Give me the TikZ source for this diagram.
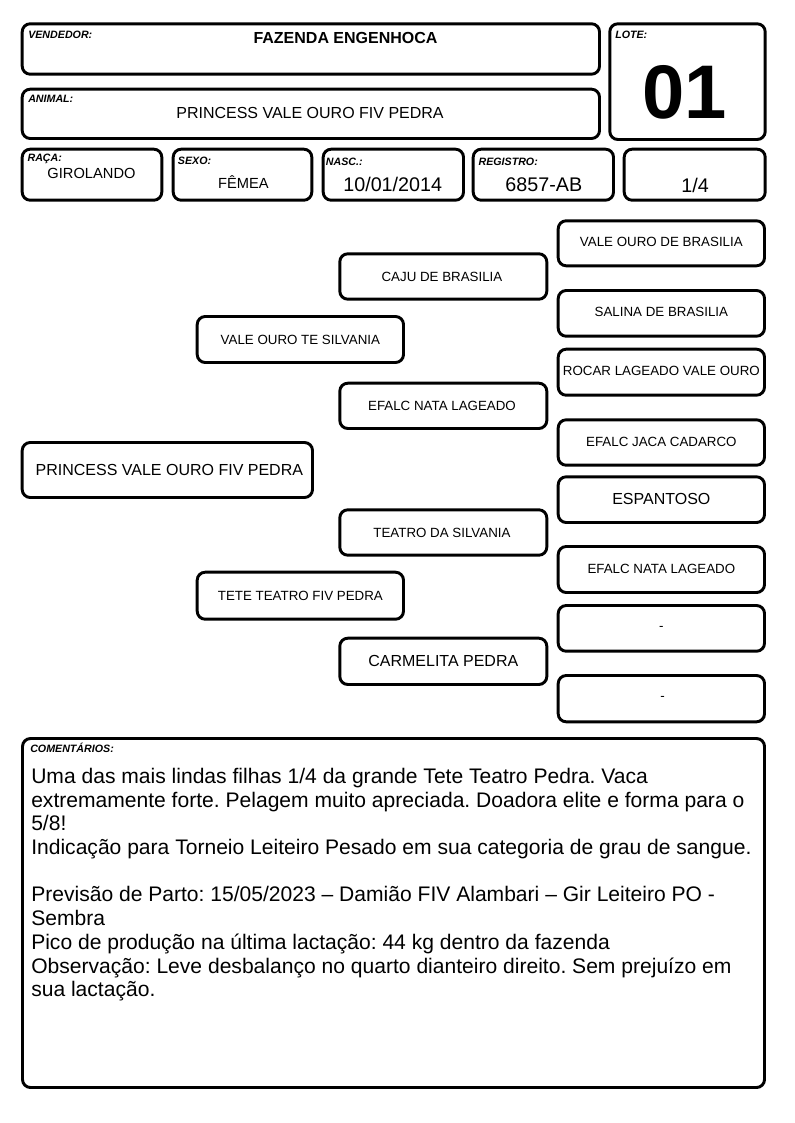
\documentclass[tikz,border=0pt]{standalone}
\usepackage{fontspec}
\setmainfont{Liberation Sans}
\usetikzlibrary{fit}
\tikzset{
  box/.style={draw=black, line width=2.2pt, rounded corners=6pt, inner sep=0pt},
  lab/.style={font=\fontsize{8}{9}\selectfont\bfseries\itshape, anchor=base west, inner sep=0pt},
  val/.style={anchor=base, inner sep=0pt},
  ped/.style={anchor=center, inner sep=0pt, font=\fontsize{10}{12}\selectfont},
  pedbig/.style={anchor=center, inner sep=0pt, font=\fontsize{12}{14}\selectfont},
}
\begin{document}
\begin{tikzpicture}[x=0.75pt,y=-0.75pt]
\fill[white] (0,0) rectangle (794,1123);
\useasboundingbox (0,0) rectangle (794,1123);

% header boxes
\node[box, fit={(22.2,23.8) (599.5,74.2)}] (vend) {};
\node[box, fit={(22.2,89.2) (599.5,138.5)}] (anim) {};
\node[box, fit={(609.8,23.8) (765.2,139.5)}] (lote) {};
\node[box, fit={(22.2,149.2) (161.8,200.2)}] (raca) {};
\node[box, fit={(173.2,149.2) (311.8,200.2)}] (sexo) {};
\node[box, fit={(323.2,149.2) (463.5,200.2)}] (nasc) {};
\node[box, fit={(473.2,149.2) (613.5,200.2)}] (reg) {};
\node[box, fit={(624.2,149.2) (765.2,200.2)}] (grau) {};

% header labels
\node[lab] (lvend) at (28,39) {VENDEDOR:};
\node[lab] (llote) at (615,39) {LOTE:};
\node[lab] (lanim) at (28,103) {ANIMAL:};
\node[lab] (lraca) at (27.3,162) {RAÇA:};
\node[lab] (lsexo) at (177.7,165) {SEXO:};
\node[lab] (lnasc) at (325.7,165.5) {NASC.:};
\node[lab] (lreg) at (478.3,165.5) {REGISTRO:};

% header values
\node[val, font=\fontsize{12}{14}\selectfont\bfseries] (vvend) at (345.5,43.3) {FAZENDA ENGENHOCA};
\node[val, font=\fontsize{12}{14}\selectfont] (vanim) at (310,119) {PRINCESS VALE OURO FIV PEDRA};
\node[val, font=\fontsize{57}{60}\selectfont\bfseries] (vlote) at (685,119) {01};
\node[val, font=\fontsize{11}{13}\selectfont] (vraca) at (91.5,178.3) {GIROLANDO};
\node[val, font=\fontsize{11}{13}\selectfont] (vsexo) at (243.5,189) {FÊMEA};
\node[val, font=\fontsize{14.8}{16}\selectfont] (vnasc) at (392.7,192) {10/01/2014};
\node[val, font=\fontsize{14.8}{16}\selectfont] (vreg) at (543.8,192) {6857-AB};
\node[val, font=\fontsize{14.8}{16}\selectfont] (vgrau) at (695,192.3) {1/4};

% pedigree boxes
\node[box, fit={(22.2,442.5) (312.5,497.5)}] (p0) {};
\node[box, fit={(197.2,316.5) (403.5,362.5)}] (p1) {};
\node[box, fit={(197.2,572.2) (403.5,619.2)}] (p2) {};
\node[box, fit={(339.8,253.8) (546.8,299.2)}] (p11) {};
\node[box, fit={(339.8,383.2) (546.8,428.5)}] (p12) {};
\node[box, fit={(339.8,509.8) (546.8,555.2)}] (p21) {};
\node[box, fit={(339.8,638.2) (546.8,684.5)}] (p22) {};
\node[box, fit={(558.2,220.8) (764.5,265.8)}] (p111) {};
\node[box, fit={(558.2,290.5) (764.5,336.2)}] (p112) {};
\node[box, fit={(558.2,349.2) (764.5,395.2)}] (p121) {};
\node[box, fit={(558.2,419.8) (764.5,465.2)}] (p122) {};
\node[box, fit={(558.2,476.8) (764.5,522.5)}] (p211) {};
\node[box, fit={(558.2,546.5) (764.5,592.5)}] (p212) {};
\node[box, fit={(558.2,605.5) (764.5,651.2)}] (p221) {};
\node[box, fit={(558.2,675.5) (764.5,721.8)}] (p222) {};

% pedigree texts
\node[pedbig] (t0) at ([xshift=1.5pt]p0.center) {PRINCESS VALE OURO FIV PEDRA};
\node[ped] (t1) at (p1.center) {VALE OURO TE SILVANIA};
\node[ped] (t2) at (p2.center) {TETE TEATRO FIV PEDRA};
\node[ped] (t11) at ([xshift=-1pt]p11.center) {CAJU DE BRASILIA};
\node[ped] (t12) at ([xshift=-1pt]p12.center) {EFALC NATA LAGEADO};
\node[ped] (t21) at ([xshift=-1pt]p21.center) {TEATRO DA SILVANIA};
\node[pedbig] (t22) at (p22.center) {CARMELITA PEDRA};
\node[ped] (t111) at ([yshift=0.75pt]p111.center) {VALE OURO DE BRASILIA};
\node[ped] (t112) at ([yshift=0.75pt]p112.center) {SALINA DE BRASILIA};
\node[ped] (t121) at ([yshift=0.75pt]p121.center) {ROCAR LAGEADO VALE OURO};
\node[ped] (t122) at ([yshift=0.75pt]p122.center) {EFALC JACA CADARCO};
\node[pedbig] (t211) at ([yshift=0.5pt]p211.center) {ESPANTOSO};
\node[ped] (t212) at ([yshift=0.5pt]p212.center) {EFALC NATA LAGEADO};
\node[ped] (t221) at (p221.center) {-};
\node[ped] (t222) at ([xshift=1pt]p222.center) {-};

% comments
\node[box, fit={(22.5,738.5) (764.5,1087.5)}] (com) {};
\node[lab] (lcom) at (30,752.7) {COMENTÁRIOS:};
\node[anchor=base west, inner sep=0pt, font=\fontsize{15.8}{17.8}\selectfont] (tcom) at (31,783.3)
{\parbox[t]{600pt}{\raggedright\frenchspacing
Uma das mais lindas filhas 1/4 da grande Tete Teatro Pedra. Vaca\\
extremamente forte. Pelagem muito apreciada. Doadora elite e forma para o\\
5/8!\\
Indicação para Torneio Leiteiro Pesado em sua categoria de grau de sangue.\\
\mbox{}\\
Previsão de Parto: 15/05/2023 – Damião FIV Alambari – Gir Leiteiro PO -\\
Sembra\\
Pico de produção na última lactação: 44 kg dentro da fazenda\\
Observação: Leve desbalanço no quarto dianteiro direito. Sem prejuízo em\\
sua lactação.}};
\end{tikzpicture}
\end{document}
